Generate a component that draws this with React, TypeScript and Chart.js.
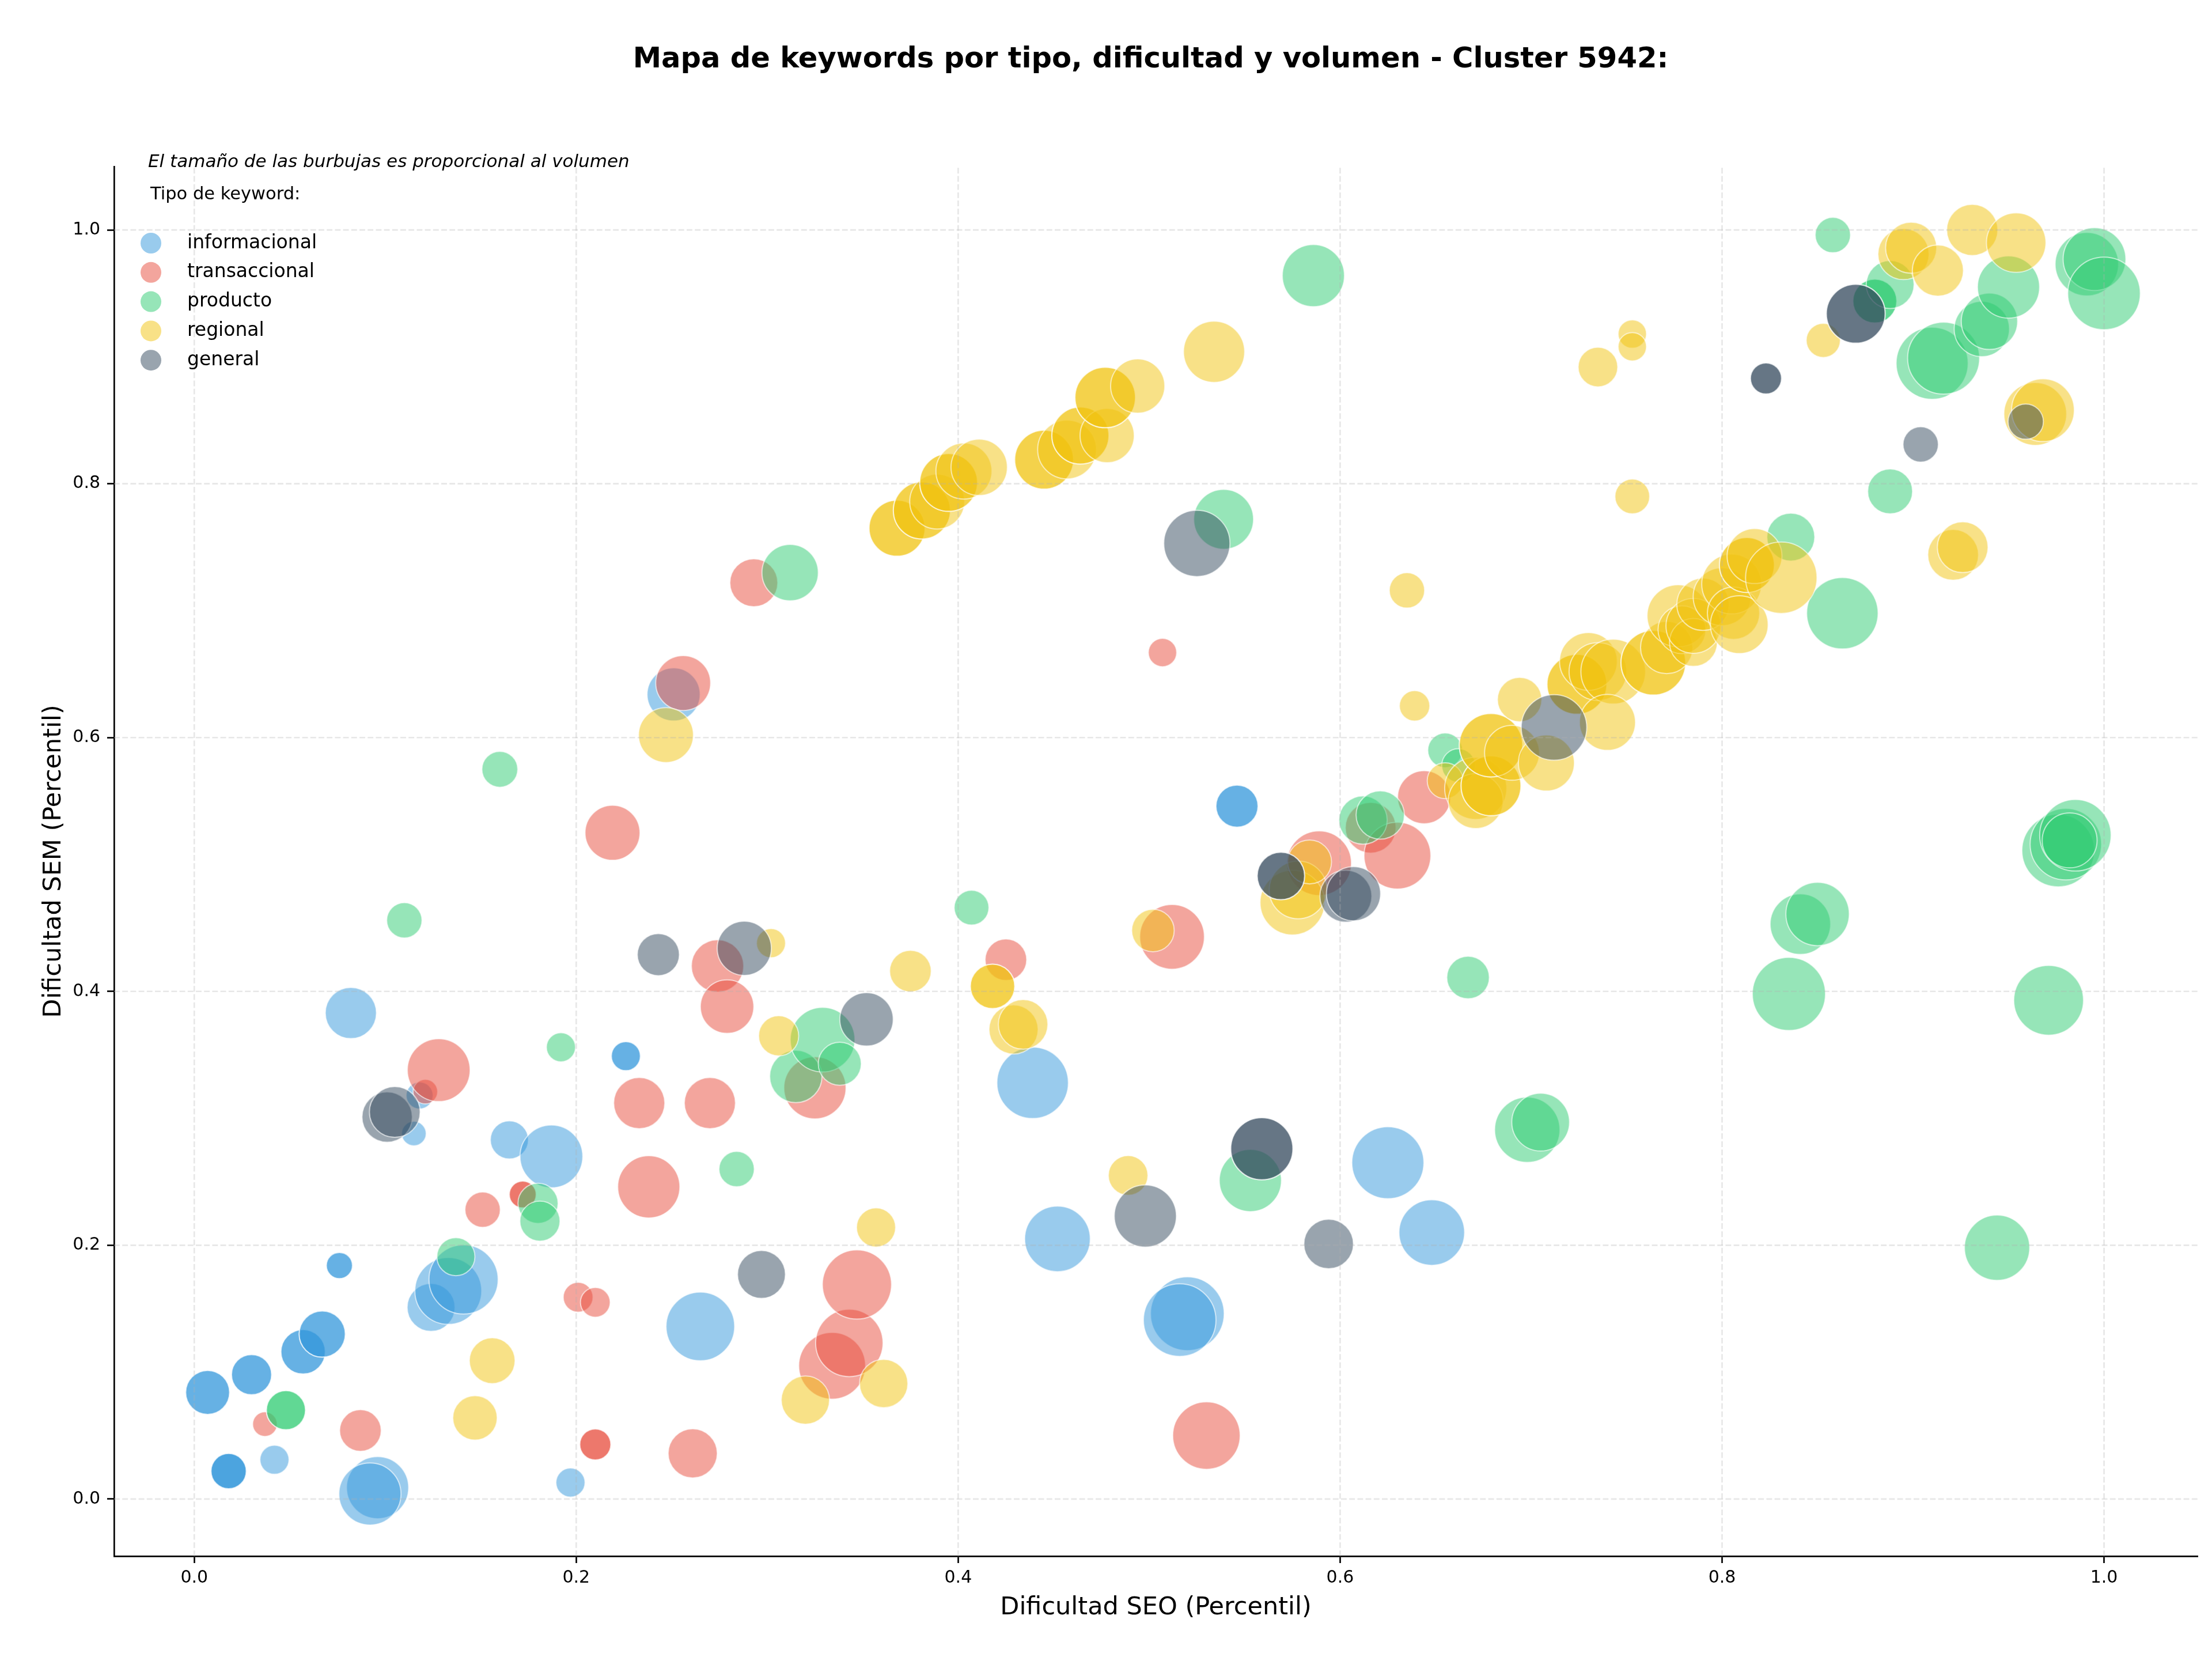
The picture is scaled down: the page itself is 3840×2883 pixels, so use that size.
import { useEffect, useRef } from "react";
import { Chart, registerables } from "chart.js";

Chart.register(...registerables);

// ---------------- DATA ----------------
const categorias = ["informacional", "transaccional", "producto", "regional", "general"];
const colores = ["#3498db", "#e74c3c", "#2ecc71", "#f1c40f", "#34495e"];

const tituloGrafico = "Mapa de keywords por tipo, dificultad y volumen - Cluster 5942:";
const notaTamano = "El tamaño de las burbujas es proporcional al volumen";
const tituloLeyenda = "Tipo de keyword:";
const etiquetaX = "Dificultad SEO (Percentil)";
const etiquetaY = "Dificultad SEM (Percentil)";

const ticksX = [0, 0.2, 0.4, 0.6, 0.8, 1.0];
const ticksY = [0, 0.2, 0.4, 0.6, 0.8, 1.0];
const etiquetasTicksX = ["0.0", "0.2", "0.4", "0.6", "0.8", "1.0"];
const etiquetasTicksY = ["0.0", "0.2", "0.4", "0.6", "0.8", "1.0"];

// informacional
const infoSeo = [0.007, 0.030, 0.057, 0.067, 0.018, 0.042, 0.076, 0.082, 0.096, 0.092, 0.115, 0.118, 0.124, 0.133, 0.141, 0.165, 0.187, 0.197, 0.226, 0.251, 0.265, 0.439, 0.452, 0.520, 0.516, 0.546, 0.625, 0.648];
const infoSem = [0.084, 0.098, 0.116, 0.130, 0.022, 0.031, 0.184, 0.383, 0.009, 0.004, 0.288, 0.318, 0.151, 0.164, 0.173, 0.283, 0.270, 0.013, 0.349, 0.634, 0.136, 0.328, 0.205, 0.146, 0.141, 0.546, 0.265, 0.210];
const infoVol = [48, 40, 49, 53, 31, 21, 17, 65, 96, 96, 15, 18, 57, 111, 119, 36, 98, 21, 21, 70, 117, 127, 107, 135, 131, 44, 129, 107];
const infoRep = [2, 2, 2, 2, 3, 1, 2, 1, 1, 1, 1, 1, 1, 1, 1, 1, 1, 1, 2, 1, 1, 1, 1, 1, 1, 2, 1, 1];

// transaccional
const tranSeo = [0.037, 0.087, 0.121, 0.128, 0.151, 0.172, 0.201, 0.210, 0.210, 0.219, 0.233, 0.238, 0.256, 0.261, 0.270, 0.274, 0.279, 0.293, 0.325, 0.334, 0.343, 0.347, 0.425, 0.507, 0.512, 0.530, 0.589, 0.616, 0.630, 0.644];
const tranSem = [0.059, 0.054, 0.321, 0.338, 0.228, 0.240, 0.159, 0.155, 0.043, 0.525, 0.312, 0.246, 0.643, 0.036, 0.312, 0.420, 0.388, 0.722, 0.324, 0.105, 0.123, 0.169, 0.425, 0.667, 0.443, 0.050, 0.501, 0.529, 0.507, 0.553];
const tranVol = [15, 43, 15, 98, 31, 18, 22, 22, 24, 75, 65, 96, 75, 60, 65, 68, 71, 57, 96, 111, 113, 119, 43, 20, 104, 113, 104, 64, 111, 70];
const tranRep = [1, 1, 1, 1, 1, 2, 1, 1, 2, 1, 1, 1, 1, 1, 1, 1, 1, 1, 1, 1, 1, 1, 1, 1, 1, 1, 1, 1, 1, 1];

// producto
const prodSeo = [0.048, 0.110, 0.137, 0.160, 0.180, 0.181, 0.192, 0.284, 0.312, 0.315, 0.329, 0.338, 0.407, 0.539, 0.553, 0.586, 0.612, 0.621, 0.655, 0.662, 0.667, 0.698, 0.705, 0.836, 0.858, 0.863, 0.835, 0.841, 0.850, 0.880, 0.888, 0.888, 0.910, 0.916, 0.936, 0.940, 0.950, 0.944, 0.971, 0.976, 0.980, 0.985, 0.982, 0.991, 0.995, 1.000];
const prodSem = [0.070, 0.456, 0.191, 0.575, 0.233, 0.219, 0.356, 0.260, 0.730, 0.333, 0.362, 0.343, 0.466, 0.772, 0.251, 0.964, 0.535, 0.539, 0.590, 0.578, 0.411, 0.291, 0.297, 0.758, 0.996, 0.698, 0.398, 0.453, 0.461, 0.944, 0.957, 0.794, 0.895, 0.899, 0.922, 0.928, 0.955, 0.198, 0.393, 0.511, 0.516, 0.523, 0.519, 0.973, 0.977, 0.950];
const prodVol = [38, 31, 36, 32, 40, 40, 21, 31, 79, 68, 104, 46, 30, 89, 96, 96, 58, 58, 30, 28, 45, 106, 83, 57, 31, 127, 133, 91, 100, 48, 57, 50, 129, 129, 76, 79, 96, 106, 121, 131, 127, 127, 75, 100, 98, 131];
const prodRep = [2, 1, 1, 1, 1, 1, 1, 1, 1, 1, 1, 1, 1, 1, 1, 1, 1, 1, 1, 1, 1, 1, 1, 1, 1, 1, 1, 1, 1, 2, 1, 1, 1, 1, 1, 1, 1, 1, 1, 1, 1, 1, 1, 1, 1, 1];

// regional
const regSeo = [0.147, 0.156, 0.247, 0.302, 0.306, 0.320, 0.357, 0.361, 0.375, 0.368, 0.381, 0.389, 0.395, 0.403, 0.411, 0.418, 0.429, 0.434, 0.445, 0.457, 0.464, 0.478, 0.477, 0.494, 0.489, 0.502, 0.534, 0.575, 0.578, 0.584, 0.635, 0.639, 0.655, 0.671, 0.671, 0.679, 0.679, 0.690, 0.694, 0.708, 0.724, 0.730, 0.735, 0.743, 0.740, 0.764, 0.771, 0.777, 0.779, 0.785, 0.785, 0.790, 0.800, 0.805, 0.806, 0.809, 0.813, 0.817, 0.831, 0.735, 0.753, 0.753, 0.753, 0.853, 0.895, 0.899, 0.913, 0.931, 0.954, 0.921, 0.926, 0.964, 0.968];
const regSem = [0.064, 0.109, 0.602, 0.438, 0.365, 0.078, 0.214, 0.091, 0.416, 0.765, 0.779, 0.786, 0.801, 0.810, 0.813, 0.404, 0.370, 0.374, 0.819, 0.827, 0.838, 0.838, 0.868, 0.877, 0.255, 0.448, 0.904, 0.470, 0.480, 0.502, 0.716, 0.625, 0.566, 0.560, 0.550, 0.562, 0.594, 0.588, 0.630, 0.580, 0.642, 0.660, 0.652, 0.652, 0.612, 0.659, 0.671, 0.696, 0.685, 0.675, 0.688, 0.705, 0.711, 0.721, 0.698, 0.689, 0.736, 0.743, 0.726, 0.892, 0.918, 0.908, 0.790, 0.913, 0.981, 0.986, 0.968, 1.000, 0.990, 0.744, 0.750, 0.855, 0.858];
const regVol = [49, 52, 75, 21, 40, 58, 38, 58, 43, 78, 81, 75, 83, 78, 79, 49, 60, 61, 86, 86, 81, 73, 91, 73, 39, 45, 93, 104, 83, 48, 31, 23, 32, 96, 75, 89, 100, 75, 49, 78, 89, 83, 83, 104, 78, 104, 68, 96, 57, 57, 75, 68, 83, 89, 68, 83, 75, 75, 127, 39, 20, 20, 30, 29, 65, 65, 65, 65, 88, 64, 64, 98, 98];
const regRep = [1, 1, 1, 1, 1, 1, 1, 1, 1, 2, 2, 1, 2, 1, 1, 2, 1, 1, 2, 1, 2, 1, 2, 1, 1, 1, 1, 1, 1, 1, 1, 1, 1, 1, 1, 2, 2, 1, 1, 1, 2, 1, 1, 1, 1, 2, 1, 1, 1, 1, 1, 1, 1, 1, 1, 1, 2, 1, 1, 1, 1, 1, 1, 1, 1, 1, 1, 1, 1, 1, 1, 1, 1];

// general
const genSeo = [0.101, 0.105, 0.243, 0.288, 0.297, 0.352, 0.498, 0.525, 0.559, 0.569, 0.594, 0.603, 0.607, 0.712, 0.823, 0.870, 0.904, 0.959];
const genSem = [0.301, 0.305, 0.429, 0.434, 0.177, 0.378, 0.223, 0.753, 0.276, 0.491, 0.201, 0.475, 0.477, 0.608, 0.883, 0.934, 0.831, 0.849];
const genVol = [63, 64, 44, 73, 57, 71, 96, 109, 96, 56, 61, 67, 73, 107, 24, 86, 31, 31];
const genRep = [1, 1, 1, 1, 1, 1, 1, 1, 2, 2, 1, 1, 1, 1, 2, 2, 1, 1];

const series = [
  { seo: infoSeo, sem: infoSem, vol: infoVol, rep: infoRep },
  { seo: tranSeo, sem: tranSem, vol: tranVol, rep: tranRep },
  { seo: prodSeo, sem: prodSem, vol: prodVol, rep: prodRep },
  { seo: regSeo, sem: regSem, vol: regVol, rep: regRep },
  { seo: genSeo, sem: genSem, vol: genVol, rep: genRep },
];

// ---------------- STYLE / LAYOUT ----------------
const W = 3840;
const H = 2883;
const FONT = '"DejaVu Sans", "Liberation Sans", sans-serif';
const ALPHA = 0.5;
const radioDesdeVolumen = (v: number) => Math.sqrt(v) * 5.5;

function rgba(hex: string, a: number) {
  const n = parseInt(hex.slice(1), 16);
  return `rgba(${(n >> 16) & 255},${(n >> 8) & 255},${n & 255},${a})`;
}

function construirPuntos(s: { seo: number[]; sem: number[]; vol: number[]; rep: number[] }) {
  const pts: { x: number; y: number; r: number }[] = [];
  for (let i = 0; i < s.seo.length; i++) {
    for (let k = 0; k < s.rep[i]; k++) {
      pts.push({ x: s.seo[i], y: s.sem[i], r: radioDesdeVolumen(s.vol[i]) });
    }
  }
  return pts;
}

const rejillaPlugin = {
  id: "rejilla",
  afterDatasetsDraw(chart: any) {
    const { ctx, chartArea: a, scales } = chart;
    ctx.save();
    ctx.beginPath();
    ctx.rect(a.left, a.top, a.right - a.left, a.bottom - a.top);
    ctx.clip();
    ctx.strokeStyle = "rgba(176,176,176,0.3)";
    ctx.lineWidth = 2.67;
    ctx.setLineDash([9.9, 4.3]);
    for (const v of ticksX) {
      const px = scales.x.getPixelForValue(v);
      ctx.beginPath();
      ctx.moveTo(px, a.bottom);
      ctx.lineTo(px, a.top);
      ctx.stroke();
    }
    for (const v of ticksY) {
      const py = scales.y.getPixelForValue(v);
      ctx.beginPath();
      ctx.moveTo(a.left, py);
      ctx.lineTo(a.right, py);
      ctx.stroke();
    }
    ctx.restore();
  },
};

const textosPlugin = {
  id: "textos",
  afterDraw(chart: any) {
    const { ctx, chartArea: a } = chart;
    const cx = (a.left + a.right) / 2;
    const cy = (a.top + a.bottom) / 2;
    ctx.save();
    ctx.fillStyle = "#000";
    // title
    ctx.font = `bold 49.6px ${FONT}`;
    ctx.textAlign = "center";
    ctx.textBaseline = "alphabetic";
    ctx.fillText(tituloGrafico, cx - 9, 117);
    // x label
    ctx.font = `43px ${FONT}`;
    ctx.fillText(etiquetaX, cx, 2802);
    // y label
    ctx.save();
    ctx.translate(105, cy);
    ctx.rotate(-Math.PI / 2);
    ctx.fillText(etiquetaY, 0, 0);
    ctx.restore();
    // note
    ctx.textAlign = "left";
    ctx.font = `italic 31px ${FONT}`;
    ctx.fillText(notaTamano, 257, 290);
    // legend title
    ctx.font = `30.5px ${FONT}`;
    ctx.fillText(tituloLeyenda, 261, 346);
    // legend entries
    ctx.font = `33px ${FONT}`;
    ctx.textBaseline = "middle";
    categorias.forEach((c, i) => {
      const y = 422 + i * 50.8;
      ctx.beginPath();
      ctx.arc(262, y, 18, 0, Math.PI * 2);
      ctx.fillStyle = rgba(colores[i], ALPHA);
      ctx.fill();
      ctx.fillStyle = "#000";
      ctx.fillText(c, 325, y);
    });
    ctx.restore();
  },
};

export default function App() {
  const ref = useRef<HTMLCanvasElement | null>(null);

  useEffect(() => {
    document.body.style.margin = "0";
    if (!ref.current) return;
    Chart.defaults.font.family = FONT;
    Chart.defaults.color = "#000";

    const datasets = series.map((s, i) => ({
      label: categorias[i],
      data: construirPuntos(s),
      backgroundColor: rgba(colores[i], ALPHA),
      borderColor: "rgba(255,255,255,0.6)",
      borderWidth: 2,
      hoverRadius: 0,
      order: categorias.length - 1 - i,
    }));

    const axisCommon = (ticks: number[], labels: string[]) => ({
      type: "linear" as const,
      afterBuildTicks: (scale: any) => {
        scale.ticks = ticks.map((v) => ({ value: v }));
      },
      ticks: {
        autoSkip: false,
        maxRotation: 0,
        padding: 8,
        color: "#000",
        font: { size: 30, family: FONT },
        callback: (_v: any, idx: number) => labels[idx],
      },
      grid: {
        drawOnChartArea: false,
        drawTicks: true,
        tickLength: 12,
        tickWidth: 2.67,
        tickColor: "#000",
        color: "#000",
      },
      border: { display: true, color: "#000", width: 2.67 },
    });

    const xAxis: any = axisCommon(ticksX, etiquetasTicksX);
    xAxis.min = -0.042;
    xAxis.max = 1.049;
    xAxis.afterFit = (scale: any) => {
      scale.height = 182;
    };
    const yAxis: any = axisCommon(ticksY, etiquetasTicksY);
    yAxis.min = -0.045;
    yAxis.max = 1.05;
    yAxis.ticks.padding = 12;
    yAxis.afterFit = (scale: any) => {
      scale.width = 198;
    };

    const chart = new Chart(ref.current, {
      type: "bubble",
      data: { datasets },
      options: {
        responsive: false,
        maintainAspectRatio: false,
        devicePixelRatio: 1,
        animation: false,
        events: [],
        layout: { autoPadding: false, padding: { left: 0, right: 25, top: 289, bottom: 0 } },
        plugins: {
          legend: { display: false },
          title: { display: false },
          tooltip: { enabled: false },
        },
        scales: { x: xAxis, y: yAxis },
      },
      plugins: [rejillaPlugin, textosPlugin],
    } as any);

    return () => chart.destroy();
  }, []);

  return (
    <div style={{ position: "absolute", left: 0, top: 0, width: W, height: H, background: "#fff" }}>
      <canvas ref={ref} width={W} height={H} style={{ display: "block", width: W, height: H }} />
    </div>
  );
}
